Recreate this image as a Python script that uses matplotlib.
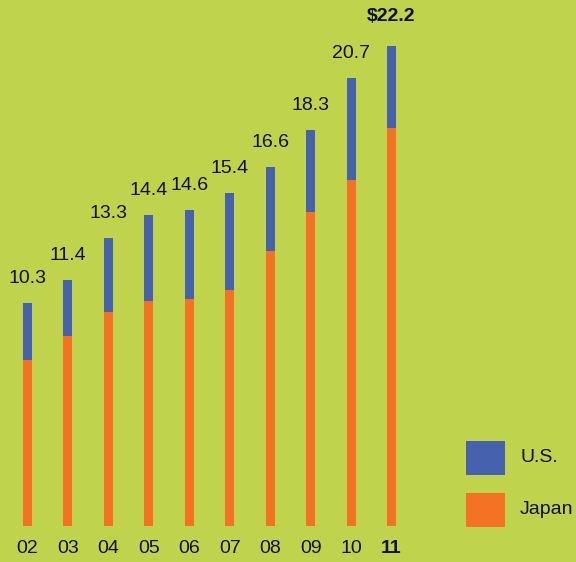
import numpy as np
import matplotlib.pyplot as plt
from matplotlib.patches import Rectangle

# yearly totals and the Japan share; U.S. is the remainder stacked on top
years = ['02', '03', '04', '05', '06', '07', '08', '09', '10', '11']
totals = [10.3, 11.4, 13.3, 14.4, 14.6, 15.4, 16.6, 18.3, 20.7, 22.2]
japan = [7.7, 8.8, 9.9, 10.4, 10.5, 10.9, 12.7, 14.5, 16.0, 18.4]
us = [t - j for t, j in zip(totals, japan)]
total_labels = ['10.3', '11.4', '13.3', '14.4', '14.6', '15.4', '16.6', '18.3', '20.7', '$22.2']
legend_names = ['U.S.', 'Japan']

BG = '#BFD44C'
BLUE = '#4662AE'
ORANGE = '#F47224'
INK = '#111111'

plt.rcParams['font.family'] = ['Liberation Sans', 'DejaVu Sans']

W, H, DPI = 576, 562, 100
fig = plt.figure(figsize=(W / DPI, H / DPI), dpi=DPI, facecolor=BG)

base_px = 526           # baseline, pixels from top
px_per_unit = 480 / 22.2
x0_px, step_px = 27.5, 40.44

ax = fig.add_axes([0, (H - base_px) / H, 1, base_px / H])
ax.set_facecolor(BG)
ax.set_xlim(-x0_px / step_px, (W - x0_px) / step_px)
ax.set_ylim(0, base_px / px_per_unit)
ax.axis('off')

x = np.arange(len(years))
bw = 9 / step_px
ax.bar(x, japan, width=bw, color=ORANGE, linewidth=0)
ax.bar(x, us, width=bw, bottom=japan, color=BLUE, linewidth=0)

for i, (t, lab) in enumerate(zip(totals, total_labels)):
    last = i == len(totals) - 1
    ax.annotate(lab, (x[i], t), xytext=(0, 15 if last else 11.5), textcoords='offset points',
                ha='center', va='bottom', fontsize=14,
                fontweight='bold' if last else 'normal', color=INK)

# year labels under the bars
for i, yr in enumerate(years):
    last = i == len(years) - 1
    ax.annotate(yr, (x[i], 0), xytext=(0, -16.5), textcoords='offset points',
                ha='center', va='center', fontsize=14,
                fontweight='bold' if last else 'normal', color=INK,
                annotation_clip=False)

# legend swatches, placed in figure pixels
for name, col, top in zip(legend_names, [BLUE, ORANGE], [441, 493]):
    fig.add_artist(Rectangle((466 / W, (H - top - 34) / H), 39 / W, 34 / H,
                             transform=fig.transFigure, facecolor=col, edgecolor='none'))
    fig.text(520 / W, (H - top - 17) / H, name, ha='left', va='center',
             fontsize=14, color=INK)

fig.savefig('out.png', dpi=DPI, facecolor=BG)
